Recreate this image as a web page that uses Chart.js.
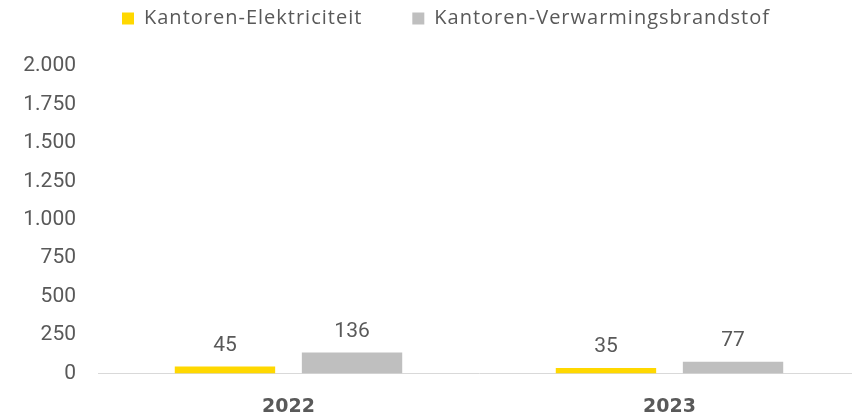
<!DOCTYPE html>
<html><head><meta charset="utf-8">
<script src="https://cdn.jsdelivr.net/npm/chart.js@4/dist/chart.umd.min.js"></script>
<style>html,body{margin:0;padding:0;background:#fff;overflow:hidden}#wrap{width:860px;height:417px;position:relative}</style>
</head><body><div id="wrap"><canvas id="c"></canvas></div>
<script>
const categories = ["2022", "2023"];
const seriesNames = ["Kantoren-Elektriciteit", "Kantoren-Verwarmingsbrandstof"];
const elektriciteit = [45, 35];
const verwarming = [136, 77];
const yTicks = [0, 250, 500, 750, 1000, 1250, 1500, 1750, 2000];

const FONT = "Roboto, sans-serif";
const LFONT = "'Open Sans', sans-serif";
const TXT = '#595959';
const LEG_PAD = 50;

const labelPlugin = {
  id: 'vals',
  beforeLayout(chart) {
    const lg = chart.legend;
    if (lg && !lg._patched) {
      const ctx = chart.ctx;
      const origFit = lg.fit, origDraw = lg.draw;
      lg.fit = function () { ctx.letterSpacing = '1px'; origFit.call(this); ctx.letterSpacing = '0px'; this.height = 66; };
      lg.draw = function () { ctx.letterSpacing = '1px'; origDraw.call(this); ctx.letterSpacing = '0px'; };
      lg._patched = true;
    }
  },
  afterLayout(chart) {
    const lg = chart.legend;
    lg.left += 16; lg.right += 16;
    lg.top = 8.5 - LEG_PAD;
  },
  afterDatasetsDraw(chart) {
    const ctx = chart.ctx;
    ctx.save();
    ctx.font = "21px " + FONT;
    ctx.fillStyle = TXT;
    ctx.textAlign = 'center';
    ctx.textBaseline = 'middle';
    chart.data.datasets.forEach((ds, i) => {
      chart.getDatasetMeta(i).data.forEach((bar, j) => {
        ctx.fillText(String(ds.data[j]), bar.x, bar.y - 21);
      });
    });
    ctx.restore();
  }
};

new Chart(document.getElementById('c'), {
  type: 'bar',
  data: {
    labels: categories,
    datasets: [
      { label: seriesNames[0], data: elektriciteit, backgroundColor: '#FFD800', categoryPercentage: 0.667, barPercentage: 0.79 },
      { label: seriesNames[1], data: verwarming, backgroundColor: '#BFBFBF', categoryPercentage: 0.667, barPercentage: 0.79 }
    ]
  },
  options: {
    responsive: true, maintainAspectRatio: false, animation: false,
    layout: { padding: { top: 0, bottom: 1, left: 0, right: 0 } },
    plugins: {
      legend: {
        position: 'top',
        labels: { font: { family: LFONT, size: 20 }, color: TXT, boxWidth: 12, boxHeight: 12, padding: LEG_PAD },
        onClick: null
      },
      tooltip: { enabled: false }
    },
    scales: {
      x: {
        afterFit(s) { s.height = 42.5; },
        grid: { display: false, drawTicks: false },
        border: { display: true, color: '#D9D9D9', width: 1 },
        ticks: { font: { family: "'DejaVu Sans', sans-serif", size: 19, weight: 'bold' }, color: TXT, padding: 22 }
      },
      y: {
        min: 0, max: 2000,
        afterFit(s) { s.width = 98; },
        afterBuildTicks(s) { s.ticks = yTicks.map(v => ({ value: v })); },
        grid: { display: false, drawTicks: false },
        border: { display: false },
        ticks: {
          font: { family: FONT, size: 21 }, color: TXT, padding: 22,
          callback: v => v.toLocaleString('de-DE')
        }
      }
    }
  },
  plugins: [labelPlugin]
});
</script></body></html>
